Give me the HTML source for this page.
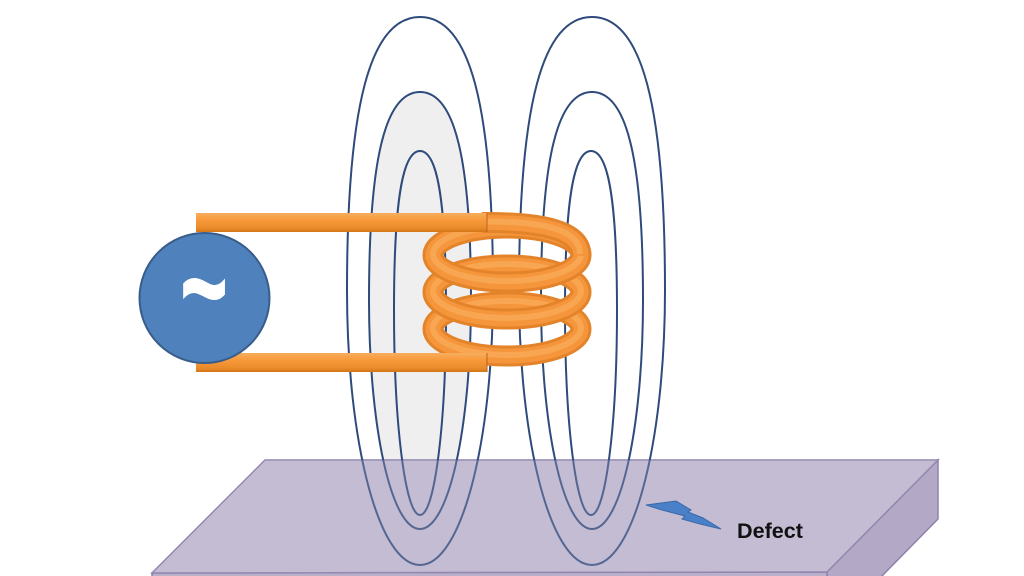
<!DOCTYPE html>
<html>
<head>
<meta charset="utf-8">
<style>
html,body{margin:0;padding:0;background:#ffffff;}
body{width:1024px;height:576px;overflow:hidden;}
svg{display:block;}
</style>
</head>
<body>
<svg width="1024" height="576" viewBox="0 0 1024 576" xmlns="http://www.w3.org/2000/svg">
  <defs>
    <linearGradient id="wire" x1="0" y1="0" x2="0" y2="1">
      <stop offset="0" stop-color="#f6ad5e"/>
      <stop offset="0.35" stop-color="#f89a3c"/>
      <stop offset="0.8" stop-color="#ea8a2a"/>
      <stop offset="1" stop-color="#d27518"/>
    </linearGradient>
  </defs>
  <rect width="1024" height="576" fill="#ffffff"/>

  <!-- gray fill in left middle loop -->
  <path d="M420,92 C454.7,92 471,158.6 471,300 C471,428.2 448.6,529 420,529 C391.4,529 369,428.2 369,300 C369,158.6 385.3,92 420,92Z" fill="#efeff0"/>

  <!-- slab -->
  <polygon points="265,460 938,460 827,572 152,573" fill="#c5bdd3" stroke="#8d81ab" stroke-width="1.5"/>
  <polygon points="938,460 938,519 881,577 827,577 827,572" fill="#b3a9c6" stroke="#8d81ab" stroke-width="1.5"/>
  <polygon points="152,573 827,572 827,577 152,577" fill="#bab0cc" stroke="#8d81ab" stroke-width="1.5"/>

  <!-- field lines -->
  <g fill="none" stroke="#2f4b7c" stroke-width="2">
    <path d="M420,17 C469.6,17 493,104.4 493,290 C493,444 460.9,565 420,565 C379.1,565 347,444 347,290 C347,104.4 370.4,17 420,17Z"/>
    <path d="M592,17 C641.6,17 665,104.4 665,290 C665,444 632.9,565 592,565 C551.1,565 519,444 519,290 C519,104.4 542.4,17 592,17Z"/>
    <path d="M420,92 C454.7,92 471,158.6 471,300 C471,428.2 448.6,529 420,529 C391.4,529 369,428.2 369,300 C369,158.6 385.3,92 420,92Z"/>
    <path d="M592,92 C626.7,92 643,158.6 643,300 C643,428.2 620.6,529 592,529 C563.4,529 541,428.2 541,300 C541,158.6 557.3,92 592,92Z"/>
    <path d="M420,151 C437.7,151 446,202 446,310 C446,424.8 434.6,515 420,515 C405.4,515 394,424.8 394,310 C394,202 402.3,151 420,151Z"/>
    <path d="M591,151 C608.7,151 617,202 617,310 C617,424.8 605.6,515 591,515 C576.4,515 565,424.8 565,310 C565,202 573.3,151 591,151Z"/>
  </g>
  <!-- slab tint over lines -->
  <polygon points="265,460 938,460 827,572 152,573" fill="#c5bdd3" fill-opacity="0.25"/>

  <!-- coil rings (bottom first) -->
  <g fill="none">
    <ellipse cx="507" cy="329" rx="74" ry="27" stroke="#e3832a" stroke-width="21"/>
    <ellipse cx="507" cy="329" rx="74" ry="27" stroke="#f5963c" stroke-width="15"/>
    <ellipse cx="507" cy="328" rx="74" ry="27" stroke="#f8a651" stroke-width="6"/>

    <ellipse cx="507" cy="292" rx="74" ry="27" stroke="#e3832a" stroke-width="21"/>
    <ellipse cx="507" cy="292" rx="74" ry="27" stroke="#f5963c" stroke-width="15"/>
    <ellipse cx="507" cy="291" rx="74" ry="27" stroke="#f8a651" stroke-width="6"/>

    <ellipse cx="507" cy="255" rx="74" ry="27" stroke="#e3832a" stroke-width="21"/>
    <ellipse cx="507" cy="255" rx="74" ry="27" stroke="#f5963c" stroke-width="15"/>
    <ellipse cx="507" cy="254" rx="74" ry="27" stroke="#f8a651" stroke-width="6"/>

    <!-- connector from top wire to ring 1 -->
    <path d="M482,222.5 C548,222 581,232 581,256" stroke="#e3832a" stroke-width="21"/>
    <path d="M482,222.5 C548,222 581,232 581,256" stroke="#f5963c" stroke-width="15"/>
    <path d="M482,221.5 C548,221 580,231 580,254" stroke="#f8a651" stroke-width="6"/>
  </g>

  <!-- straight wires -->
  <rect x="196" y="213" width="291" height="19" fill="url(#wire)"/>
  <line x1="487" y1="213" x2="487" y2="232" stroke="#b8651a" stroke-width="1"/>
  <rect x="196" y="353" width="291" height="19" fill="url(#wire)"/>
  <line x1="487" y1="353" x2="487" y2="372" stroke="#b8651a" stroke-width="1"/>

  <!-- AC source -->
  <circle cx="204.5" cy="298" r="65" fill="#4f81bd" stroke="#385d8a" stroke-width="2"/>
  <text transform="translate(204,289) scale(1,1.6)" x="0" y="26.6" text-anchor="middle" font-family="Liberation Sans, sans-serif" font-weight="bold" font-size="80" fill="#ffffff" stroke="#ffffff" stroke-width="1.2">~</text>

  <!-- defect bolt -->
  <polygon points="646,505 676,501 691,510 688,512 703,518 721,529 700,524 682,519 685,516 662,510" fill="#4a80c8" stroke="#3a68a8" stroke-width="1"/>
  <text x="737" y="538" font-family="Liberation Sans, sans-serif" font-weight="bold" font-size="21" fill="#111111" textLength="66" lengthAdjust="spacingAndGlyphs">Defect</text>
</svg>
</body>
</html>
